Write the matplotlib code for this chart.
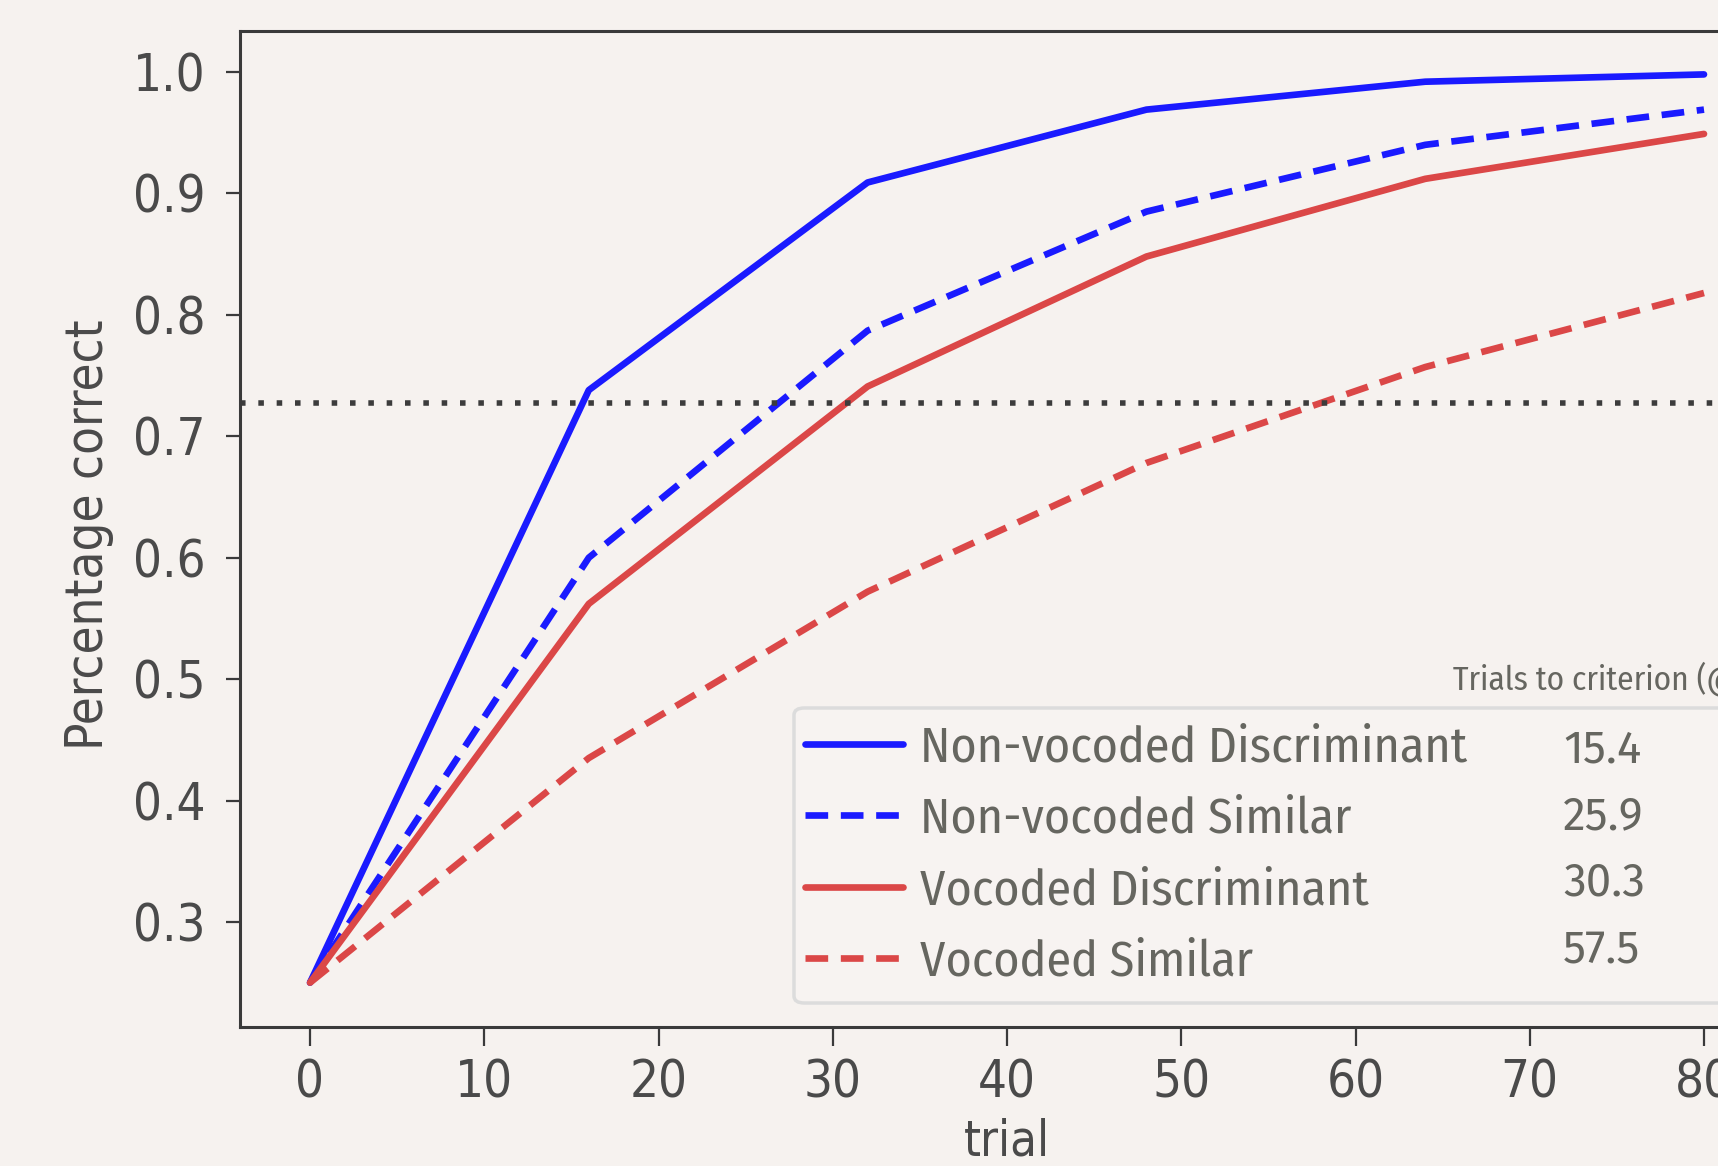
import matplotlib
matplotlib.use("Agg")
import matplotlib.pyplot as plt
from matplotlib.patches import FancyBboxPatch
import warnings
warnings.filterwarnings("ignore")

# ---- data ----
trials = [0, 16, 32, 48, 64, 80]
nonvoc_discriminant = [0.25, 0.738, 0.909, 0.969, 0.992, 0.998]
nonvoc_similar      = [0.25, 0.600, 0.787, 0.885, 0.940, 0.969]
voc_discriminant    = [0.25, 0.562, 0.741, 0.848, 0.912, 0.949]
voc_similar         = [0.25, 0.435, 0.572, 0.678, 0.757, 0.818]
criterion = 0.7275
series_labels = ["Non-vocoded Discriminant", "Non-vocoded Similar",
                 "Vocoded Discriminant", "Vocoded Similar"]
trials_to_criterion = ["15.4", "25.9", "30.3", "57.5"]
criterion_header = "Trials to criterion (@ 72.75%)"
x_ticks = [0, 10, 20, 30, 40, 50, 60, 70, 80]
y_ticks = [0.3, 0.4, 0.5, 0.6, 0.7, 0.8, 0.9, 1.0]

BG = "#f6f2ef"
BLUE = "#1a1aff"
RED = "#db4747"
TXT = "#4a4a4a"
LEGTXT = "#666660"

plt.rcParams["font.family"] = ["DejaVu Sans"]
plt.rcParams["font.stretch"] = "condensed"

W, H = 1718, 1166
fig = plt.figure(figsize=(W / 100, H / 100), dpi=100, facecolor=BG)

# axes in pixel geometry (right part extends beyond the figure, as in the reference)
x0_px = 240.3
ax_w_px = 1533.4
ax_top_px = 30.7
ax_bot_px = 1027
ax = fig.add_axes([x0_px / W, 1 - ax_bot_px / H, ax_w_px / W, (ax_bot_px - ax_top_px) / H])
ax.set_facecolor("none")

lw = 4.8
dash = (0, (3.4, 1.9))
l1, = ax.plot(trials, nonvoc_discriminant, color=BLUE, lw=lw, solid_capstyle="round")
l2, = ax.plot(trials, nonvoc_similar, color=BLUE, lw=lw, linestyle=dash)
l3, = ax.plot(trials, voc_discriminant, color=RED, lw=lw, solid_capstyle="round")
l4, = ax.plot(trials, voc_similar, color=RED, lw=lw, linestyle=dash)
ax.axhline(criterion, color="#3c3c3c", lw=4.0, linestyle=(0, (1, 2.3)), dash_capstyle="butt")

ax.set_xlim(-4, 84)
ax.set_ylim(0.2135, 1.034)
ax.set_xticks(x_ticks)
ax.set_yticks(y_ticks)
ax.set_xticklabels([str(v) for v in x_ticks])
ax.set_yticklabels([f"{v:.1f}" for v in y_ticks])

for s in ax.spines.values():
    s.set_color("#3a3a3a")
    s.set_linewidth(2.2)
ax.tick_params(axis="y", length=10, width=1.6, color="#3a3a3a", pad=15, labelsize=36.5, labelcolor=TXT)
ax.tick_params(axis="x", length=14, width=1.6, color="#3a3a3a", pad=9, labelsize=36.5, labelcolor=TXT)

ax.set_xlabel("trial", fontsize=35, color=TXT)
ax.xaxis.set_label_coords(0.5, -0.091)
ax.set_ylabel("Percentage correct", fontsize=36.5, color=TXT)
ax.yaxis.set_label_coords((114 - x0_px) / ax_w_px, 0.4945)

# legend frame (extends past the right edge, as in the reference)
box = FancyBboxPatch((794 / W, 1 - 1003 / H), 1100 / W, (1003 - 708) / H,
                     boxstyle="round,pad=0,rounding_size=0.006",
                     transform=fig.transFigure, facecolor="#f7f3f1",
                     edgecolor="#dcdcdc", lw=2.5, zorder=4, clip_on=False)
ax.add_patch(box)

legfont = {"family": ["Fira Sans Condensed", "Fira Sans", "DejaVu Sans"], "size": 36}
leg = ax.legend([l1, l2, l3, l4], series_labels, loc="upper left",
                bbox_to_anchor=(805 / W, 1 - 724 / H), bbox_transform=fig.transFigure,
                frameon=False, borderpad=0, borderaxespad=0,
                handlelength=1.95, handletextpad=0.36, labelspacing=0.47,
                prop=legfont)
leg.set_zorder(5)
for t in leg.get_texts():
    t.set_color(LEGTXT)

fig.text(1453 / W, 1 - 679 / H, criterion_header, ha="left", va="center",
         fontsize=24, color=LEGTXT, family=["Fira Sans Condensed", "Fira Sans", "DejaVu Sans"],
         fontstretch="normal", zorder=6)
for v, yc in zip(trials_to_criterion, [750, 817, 883, 950]):
    fig.text(1563 / W, 1 - yc / H, v, ha="left", va="center",
             fontsize=33, color=LEGTXT, family=["Fira Sans", "DejaVu Sans"],
             fontstretch="normal", zorder=6)

fig.savefig("out.png", dpi=100, facecolor=BG)
